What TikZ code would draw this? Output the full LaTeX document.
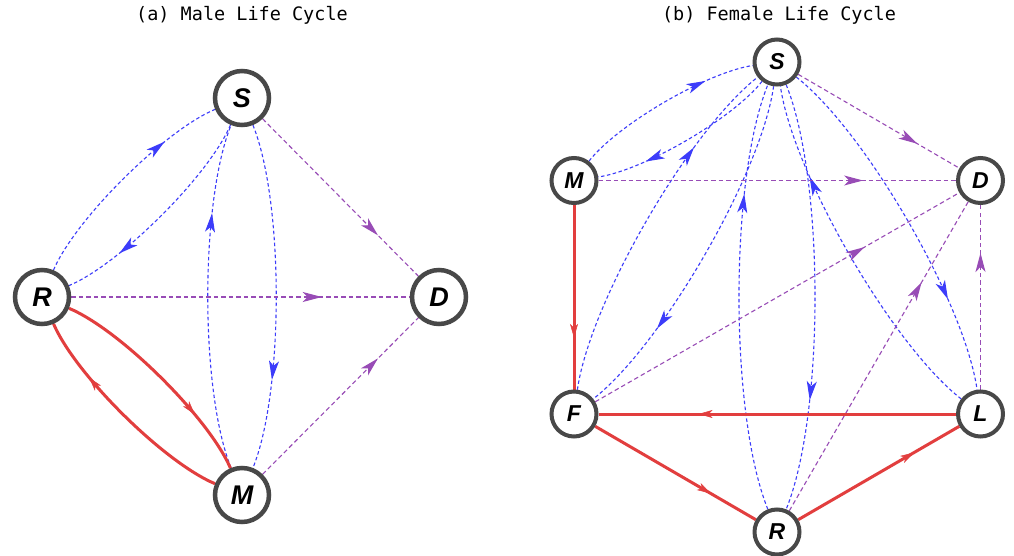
\documentclass[tikz,border=0pt]{standalone}
\usepackage{fontspec}
\setmainfont{Liberation Sans}
\newfontfamily\monofam{DejaVu Sans Mono}
\usetikzlibrary{arrows.meta,decorations.markings,backgrounds}
\definecolor{edgeblue}{RGB}{60,60,250}
\definecolor{edgepurple}{RGB}{152,76,182}
\definecolor{edgered}{RGB}{226,62,62}
\definecolor{ringgray}{RGB}{72,72,72}
\begin{document}
\begin{tikzpicture}[x=1pt,y=1pt,
  nodebig/.style={circle, draw=ringgray, line width=4.5pt, fill=white, minimum size=54pt, inner sep=0pt,
    font=\fontsize{27}{27}\selectfont\bfseries\itshape},
  nodesmall/.style={circle, draw=ringgray, line width=4pt, fill=white, minimum size=45pt, inner sep=0pt,
    font=\fontsize{23}{23}\selectfont\bfseries\itshape},
  titletext/.style={anchor=base, font=\monofam\fontsize{18.5}{18.5}\selectfont, inner sep=0pt},
  midarrow/.style={postaction={decorate}, decoration={markings,
    mark=at position 0.74 with {\arrow[#1]{Stealth[length=19pt,width=10pt,inset=5pt]}}}},
  redarrow/.style={postaction={decorate}, decoration={markings,
    mark=at position 0.72 with {\arrow[edgered]{Stealth[length=14pt,width=8pt,inset=4pt,line width=0.5pt]}}}},
  blueedge/.style={draw=edgeblue, line width=1.1pt, dash pattern=on 3.5pt off 2.5pt, midarrow=edgeblue},
  purpleedge/.style={draw=edgepurple, line width=1.1pt, dash pattern=on 4.5pt off 3pt, midarrow=edgepurple},
  rededge/.style={draw=edgered, line width=3pt, redarrow},
  bendedge/.style={bend left=22, looseness=0.62}
]
\useasboundingbox (0,0) rectangle (1014,-556);
% titles
\node[titletext] (ta) at (242,-21) {(a) Male Life Cycle};
\node[titletext] (tb) at (779,-21) {(b) Female Life Cycle};
% left nodes
\node[nodebig] (lS) at (242,-98) {S};
\node[nodebig] (lR) at (42,-297) {R};
\node[nodebig] (lD) at (439,-297) {D};
\node[nodebig] (lM) at (242,-495) {M};
% right nodes
\node[nodesmall] (rS) at (777,-62) {S};
\node[nodesmall] (rM) at (574,-180.5) {M};
\node[nodesmall] (rD) at (980.5,-180.5) {D};
\node[nodesmall] (rF) at (574,-414) {F};
\node[nodesmall] (rL) at (980.5,-414) {L};
\node[nodesmall] (rR) at (777,-532) {R};
\begin{scope}[on background layer]
\fill[white] (0,0) rectangle (1014,-556);
% left edges
\draw[blueedge] (lR) to[bendedge] (lS);
\draw[blueedge] (lS) to[bendedge] (lR);
\draw[blueedge] (lS) to[bendedge] (lM);
\draw[blueedge] (lM) to[bendedge] (lS);
\draw[purpleedge] (lS) -- (lD);
\draw[purpleedge] (lR) -- (lD);
\draw[purpleedge] (lM) -- (lD);
\draw[rededge] (lR) to[bendedge] (lM);
\draw[rededge] (lM) to[bendedge] (lR);
% right edges
\draw[blueedge] (rM) to[bendedge] (rS);
\draw[blueedge] (rS) to[bendedge] (rM);
\draw[blueedge] (rF) to[bendedge] (rS);
\draw[blueedge] (rS) to[bendedge] (rF);
\draw[blueedge] (rR) to[bendedge] (rS);
\draw[blueedge] (rS) to[bendedge] (rR);
\draw[blueedge] (rL) to[bendedge] (rS);
\draw[blueedge] (rS) to[bendedge] (rL);
\draw[purpleedge] (rS) -- (rD);
\draw[purpleedge] (rM) -- (rD);
\draw[purpleedge] (rF) -- (rD);
\draw[purpleedge] (rR) -- (rD);
\draw[purpleedge] (rL) -- (rD);
\draw[rededge] (rM) -- (rF);
\draw[rededge] (rL) -- (rF);
\draw[rededge] (rF) -- (rR);
\draw[rededge] (rR) -- (rL);
\end{scope}
\end{tikzpicture}
\end{document}
